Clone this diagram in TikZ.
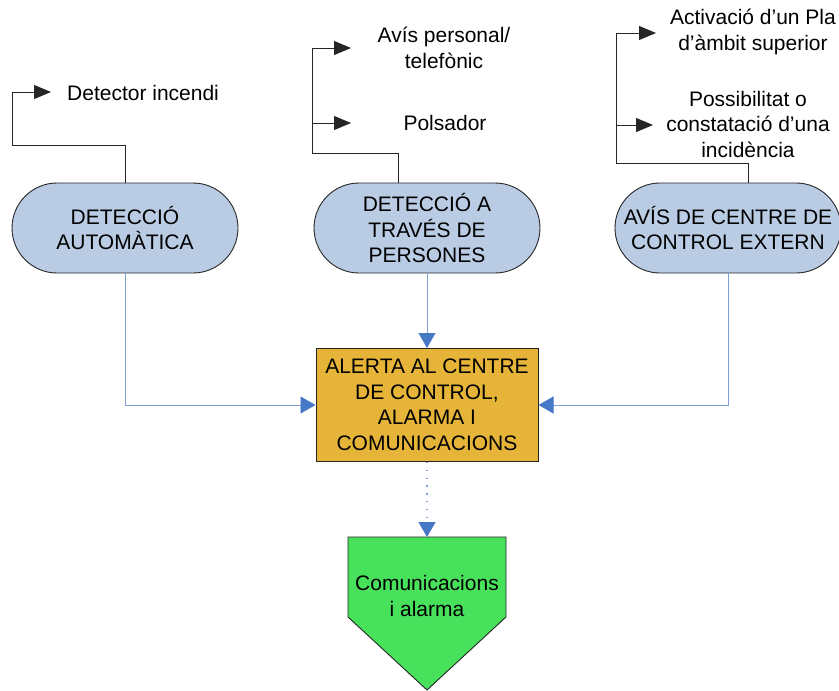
\documentclass[tikz,border=0pt]{standalone}
\usepackage{fontspec}
\setmainfont{Liberation Sans}
\usetikzlibrary{arrows.meta,positioning}
\definecolor{stadblue}{RGB}{185,204,228}
\definecolor{alertorange}{RGB}{230,180,56}
\definecolor{comgreen}{RGB}{72,225,92}
\definecolor{linkblue}{RGB}{125,160,212}
\definecolor{tipblue}{RGB}{70,120,198}
\tikzset{
  txt/.style={font=\fontsize{21}{25.5}\selectfont, align=center, inner sep=0},
  stad/.style={txt, draw=black!85, line width=0.9pt, fill=stadblue, rounded corners=45,
    minimum width=226, minimum height=90},
  alertbox/.style={txt, draw=black!85, line width=1pt, fill=alertorange,
    minimum width=222, minimum height=113},
  blk/.style={draw=black!85, line width=0.9pt, -{Triangle[length=17pt,width=14pt]}},
  bluelink/.style={draw=linkblue, line width=0.9pt, -{Triangle[length=15pt,width=17pt,color=tipblue]}}
}
\begin{document}
\begin{tikzpicture}[x=1pt,y=-1pt]
  \useasboundingbox (0,0) rectangle (839,691);
  % detection sources
  \node[stad] (auto) at (125,228) {DETECCIÓ\\AUTOMÀTICA};
  \node[stad] (pers) at (427,228) {DETECCIÓ A\\TRAVÉS DE\\PERSONES};
  \node[stad] (ext) at (728,228) {AVÍS DE CENTRE DE\\CONTROL EXTERN};
  \node[alertbox] (alerta) at (427,405) {ALERTA AL CENTRE\\DE CONTROL,\\ALARMA I\\COMUNICACIONS};
  % green pentagon
  \coordinate (comtop) at (427,537);
  \fill[comgreen, draw=black!85, line width=0.9pt] (348,537) -- (506,537) -- (506,617) -- (427,690) -- (348,617) -- cycle;
  \node[txt] (com) at (427,596) {Comunicacions\\i alarma};
  % labels
  \node[txt, anchor=west] (incendi) at (67,93) {Detector incendi};
  \node[txt] (avis) at (444,48) {Avís personal/\\telefònic};
  \node[txt] (polsador) at (445,123) {Polsador};
  \node[txt] (pla) at (753,32) {Activació d’un Pla\\d’àmbit superior};
  \node[txt] (incid) at (748,124) {Possibilitat o\\constatació d’una\\incidència};
  % bracket corners and arrow ends
  \coordinate (k1) at (12,145);
  \coordinate (t1) at (51,92);
  \coordinate (k2) at (312,153);
  \coordinate (t2a) at (351,48);
  \coordinate (t2b) at (351,123);
  \coordinate (k3) at (616,163);
  \coordinate (t3a) at (656,33);
  \coordinate (t3b) at (653,125);
  \draw[blk] (auto.north) |- (k1) |- (t1);
  \draw[blk] ([xshift=-29]pers.north) |- (k2) |- (t2a);
  \draw[blk] (k2 |- t2b) -- (t2b);
  \draw[blk] ([xshift=20]ext.north) |- (k3) |- (t3a);
  \draw[blk] (k3 |- t3b) -- (t3b);
  % into the alert box
  \draw[bluelink] (auto.south) |- (alerta.west);
  \draw[bluelink] (pers.south) -- (alerta.north);
  \draw[bluelink] (ext.south) |- (alerta.east);
  \draw[bluelink, line width=1.3pt, dash pattern=on 1.3pt off 6.5pt] (alerta.south) -- (comtop);
\end{tikzpicture}
\end{document}
